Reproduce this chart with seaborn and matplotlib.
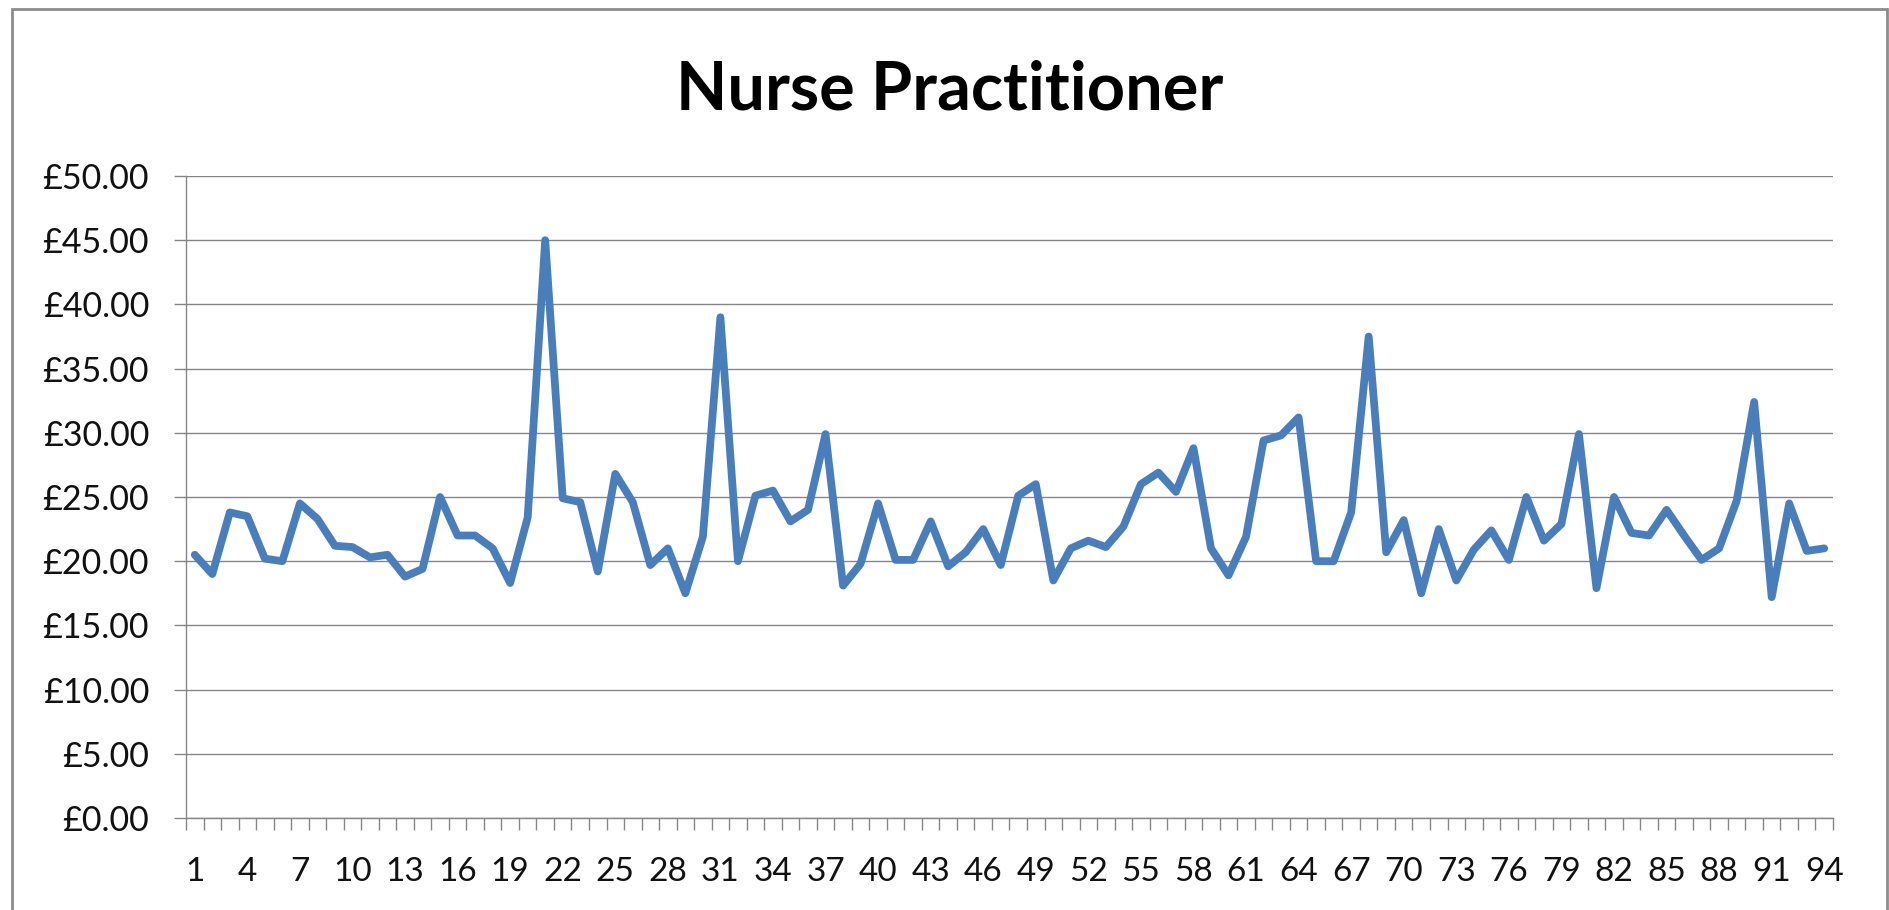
import matplotlib
matplotlib.use("Agg")
import matplotlib.pyplot as plt
from matplotlib.patches import Rectangle
from matplotlib.ticker import FixedLocator, FuncFormatter
import numpy as np
import pandas as pd
import seaborn as sns

# ---- data ----
title = "Nurse Practitioner"
positions = list(range(1, 95))
rates = [
    20.5, 19.0, 23.8, 23.5, 20.2, 20.0, 24.5, 23.3, 21.2, 21.1,
    20.3, 20.5, 18.8, 19.4, 25.0, 22.0, 22.0, 21.0, 18.3, 23.4,
    45.0, 24.9, 24.6, 19.2, 26.8, 24.6, 19.7, 21.0, 17.5, 21.9,
    39.0, 20.0, 25.1, 25.5, 23.1, 24.0, 29.9, 18.1, 19.8, 24.5,
    20.1, 20.1, 23.1, 19.6, 20.7, 22.5, 19.7, 25.1, 26.0, 18.5,
    21.0, 21.6, 21.1, 22.7, 26.0, 26.9, 25.4, 28.8, 21.0, 18.9,
    21.9, 29.4, 29.8, 31.2, 20.0, 20.0, 23.8, 37.5, 20.7, 23.2,
    17.5, 22.5, 18.5, 20.9, 22.4, 20.1, 25.0, 21.6, 22.9, 29.9,
    17.9, 25.0, 22.2, 22.0, 24.0, 22.0, 20.1, 21.0, 24.7, 32.4,
    17.2, 24.5, 20.8, 21.0,
]
y_ticks = [0, 5, 10, 15, 20, 25, 30, 35, 40, 45, 50]
x_label_positions = list(range(1, 95, 3))

df = pd.DataFrame({"position": positions, "rate": rates})

sns.set_style("white")
plt.rcParams["font.family"] = ["Lato", "DejaVu Sans"]

W, H = 1890, 910
fig = plt.figure(figsize=(W / 100, H / 100), dpi=100)
ax = fig.add_axes([186 / W, 1 - 818 / H, (1833 - 186) / W, (818 - 176) / H])

grid_col = "#868686"
line_col = "#4A7EBB"

sns.lineplot(data=df, x="position", y="rate", ax=ax, color=line_col,
             linewidth=5.6, solid_joinstyle="round", solid_capstyle="round", zorder=3)

ax.set_xlim(0.5, 94.5)
ax.set_ylim(0, 50)
ax.set_xlabel("")
ax.set_ylabel("")

ax.yaxis.set_major_locator(FixedLocator(y_ticks))
ax.yaxis.set_major_formatter(FuncFormatter(lambda v, p: f"\u00a3{v:.2f}"))
ax.grid(axis="y", color=grid_col, linewidth=1.0, zorder=0)
ax.grid(axis="x", visible=False)

ax.xaxis.set_major_locator(FixedLocator(x_label_positions))
ax.set_xticklabels([str(v) for v in x_label_positions])
ax.xaxis.set_minor_locator(FixedLocator(np.arange(0.5, 95.0, 1.0)))

ax.tick_params(axis="x", which="both", bottom=True)
ax.tick_params(axis="y", which="major", left=True)
ax.tick_params(axis="x", which="major", length=0, pad=28, labelsize=24, labelcolor="#111111")
ax.tick_params(axis="x", which="minor", length=8.6, width=1.0, color=grid_col, direction="out")
ax.tick_params(axis="y", which="major", length=8.6, width=1.0, color=grid_col, direction="out",
               pad=18, labelsize=24.5, labelcolor="#111111")

for side in ["top", "right"]:
    ax.spines[side].set_visible(False)
for side in ["left", "bottom"]:
    ax.spines[side].set_color(grid_col)
    ax.spines[side].set_linewidth(1.0)

fig.text(950 / W, 1 - 109 / H, title, ha="center", va="baseline",
         fontsize=48, fontweight="bold", color="black")

border = Rectangle((12 / W, -0.05), (1887 - 12) / W, 1 - 9 / H + 0.05,
                   transform=fig.transFigure, fill=False, edgecolor="#8c8c8c",
                   linewidth=2.0, zorder=10)
fig.patches.append(border)

fig.savefig("out.png", dpi=100, facecolor="white")
